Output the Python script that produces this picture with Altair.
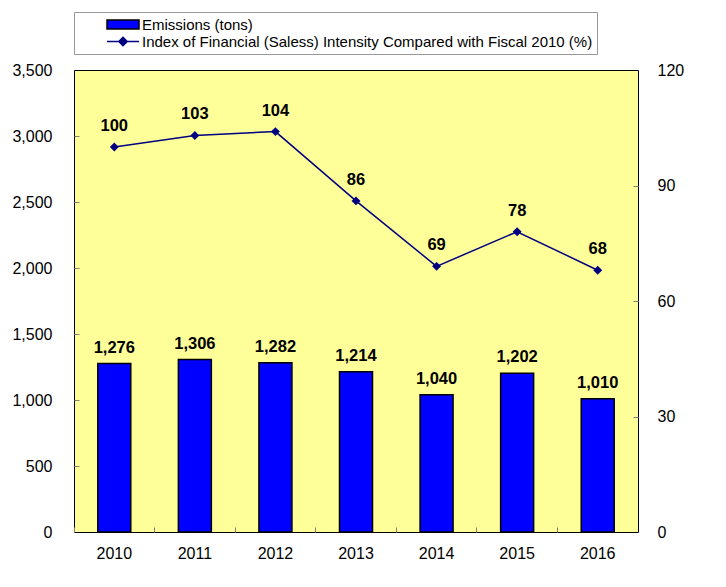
import altair as alt
import pandas as pd

years = ["2010", "2011", "2012", "2013", "2014", "2015", "2016"]
emissions = [1276, 1306, 1282, 1214, 1040, 1202, 1010]
intensity = [100, 103, 104, 86, 69, 78, 68]
series_names = ["Emissions (tons)",
                "Index of Financial (Saless) Intensity Compared with Fiscal 2010 (%)"]
left_ticks = [0, 500, 1000, 1500, 2000, 2500, 3000, 3500]
right_ticks = [0, 30, 60, 90, 120]

df = pd.DataFrame({"year": years, "emissions": emissions,
                   "intensity": intensity, "series": series_names[0]})

FONT = "Liberation Sans"
W, H = 564, 462
E = series_names[0]
RECT = "M-1,-0.28H1V0.28H-1Z"
LINEDIA = "M-1,0H1M-0.26,0L0,-0.26L0.26,0L0,0.26Z"

xscale = alt.Scale(paddingInner=0, paddingOuter=0)
yl = alt.Scale(domain=[0, 3500], nice=False, zero=True)
yr = alt.Scale(domain=[0, 120], nice=False, zero=True)

legend = alt.Legend(
    title=None, orient="none", legendX=0, legendY=-58,
    strokeColor="#999999", fillColor="white", padding=4,
    symbolSize=1024, symbolOffset=28, labelOffset=2, clipHeight=17,
    rowPadding=0, labelFont=FONT, labelFontSize=15, labelColor="black",
    labelLimit=700, symbolStrokeWidth=1.5,
    labelExpr="datum.label + '\u2003\u2003'",
    symbolType={"expr": f"datum.value == '{E}' ? '{RECT}' : '{LINEDIA}'"},
    symbolStrokeColor={"expr": f"datum.value == '{E}' ? 'black' : '#000080'"},
)

base = alt.Chart(df)

bars = base.mark_bar(size=33, stroke="black", strokeWidth=1.5).encode(
    x=alt.X("year:N", scale=xscale, title=None,
            axis=alt.Axis(orient="bottom", ticks=False, tickSize=0, domain=False,
                          labelAngle=0, labelFont=FONT, labelFontSize=16,
                          labelColor="black", labelPadding=13)),
    y=alt.Y("emissions:Q", scale=yl, title=None,
            axis=alt.Axis(orient="left", values=left_ticks, format=",d",
                          ticks=False, tickSize=0, domain=False, grid=False,
                          labelPadding=22, labelFont=FONT, labelFontSize=16,
                          labelColor="black")),
    fill=alt.Fill("series:N",
                  scale=alt.Scale(domain=series_names, range=["#0000FF", "#000080"]),
                  legend=legend),
)

bar_text = base.mark_text(baseline="alphabetic", dy=-11, font=FONT, fontSize=16.5,
                          fontWeight="bold", color="black").encode(
    x=alt.X("year:N", scale=xscale, title=None,
            axis=alt.Axis(orient="top", offset=-H, bandPosition=0, labels=False,
                          domain=False, ticks=True, tickSize=5,
                          tickColor="#808080", grid=False)),
    y=alt.Y("emissions:Q", scale=yl, title=None,
            axis=alt.Axis(orient="right", offset=-W, values=left_ticks[1:-1],
                          labels=False, domain=False, tickSize=5,
                          tickColor="#808080", grid=False)),
    text=alt.Text("emissions:Q", format=",d"),
)

line = base.mark_line(color="#000080", strokeWidth=1.5).encode(
    x=alt.X("year:N", scale=xscale, axis=None),
    y=alt.Y("intensity:Q", scale=yr, title=None,
            axis=alt.Axis(orient="right", values=right_ticks, ticks=False,
                          tickSize=0, domain=False, grid=False, labelPadding=19,
                          labelFont=FONT, labelFontSize=16, labelColor="black")),
)

pts = base.mark_point(shape="diamond", filled=True, size=80, color="#000080",
                      opacity=1).encode(
    x=alt.X("year:N", scale=xscale, axis=None),
    y=alt.Y("intensity:Q", scale=yr, title=None,
            axis=alt.Axis(orient="left", offset=-W, values=right_ticks[1:-1],
                          labels=False, domain=False, tickSize=5,
                          tickColor="#808080", grid=False)),
)

line_text = base.mark_text(baseline="alphabetic", dy=-16, font=FONT, fontSize=16.5,
                           fontWeight="bold", color="black").encode(
    x=alt.X("year:N", scale=xscale, axis=None),
    y=alt.Y("intensity:Q", scale=yr, axis=None),
    text=alt.Text("intensity:Q"),
)

chart = alt.layer(bars, bar_text, line, pts, line_text).resolve_scale(
    y="independent"
).resolve_axis(x="independent").properties(
    width=W, height=H,
    autosize=alt.AutoSizeParams(type="none"),
    padding={"left": 66, "top": 62, "right": 80, "bottom": 47},
    background="white",
).configure_view(
    stroke="black", strokeWidth=1, fill="#FFFF99"
).configure_axis(grid=False)

chart.save("out.html", embed_options={"renderer": "svg", "actions": False})
